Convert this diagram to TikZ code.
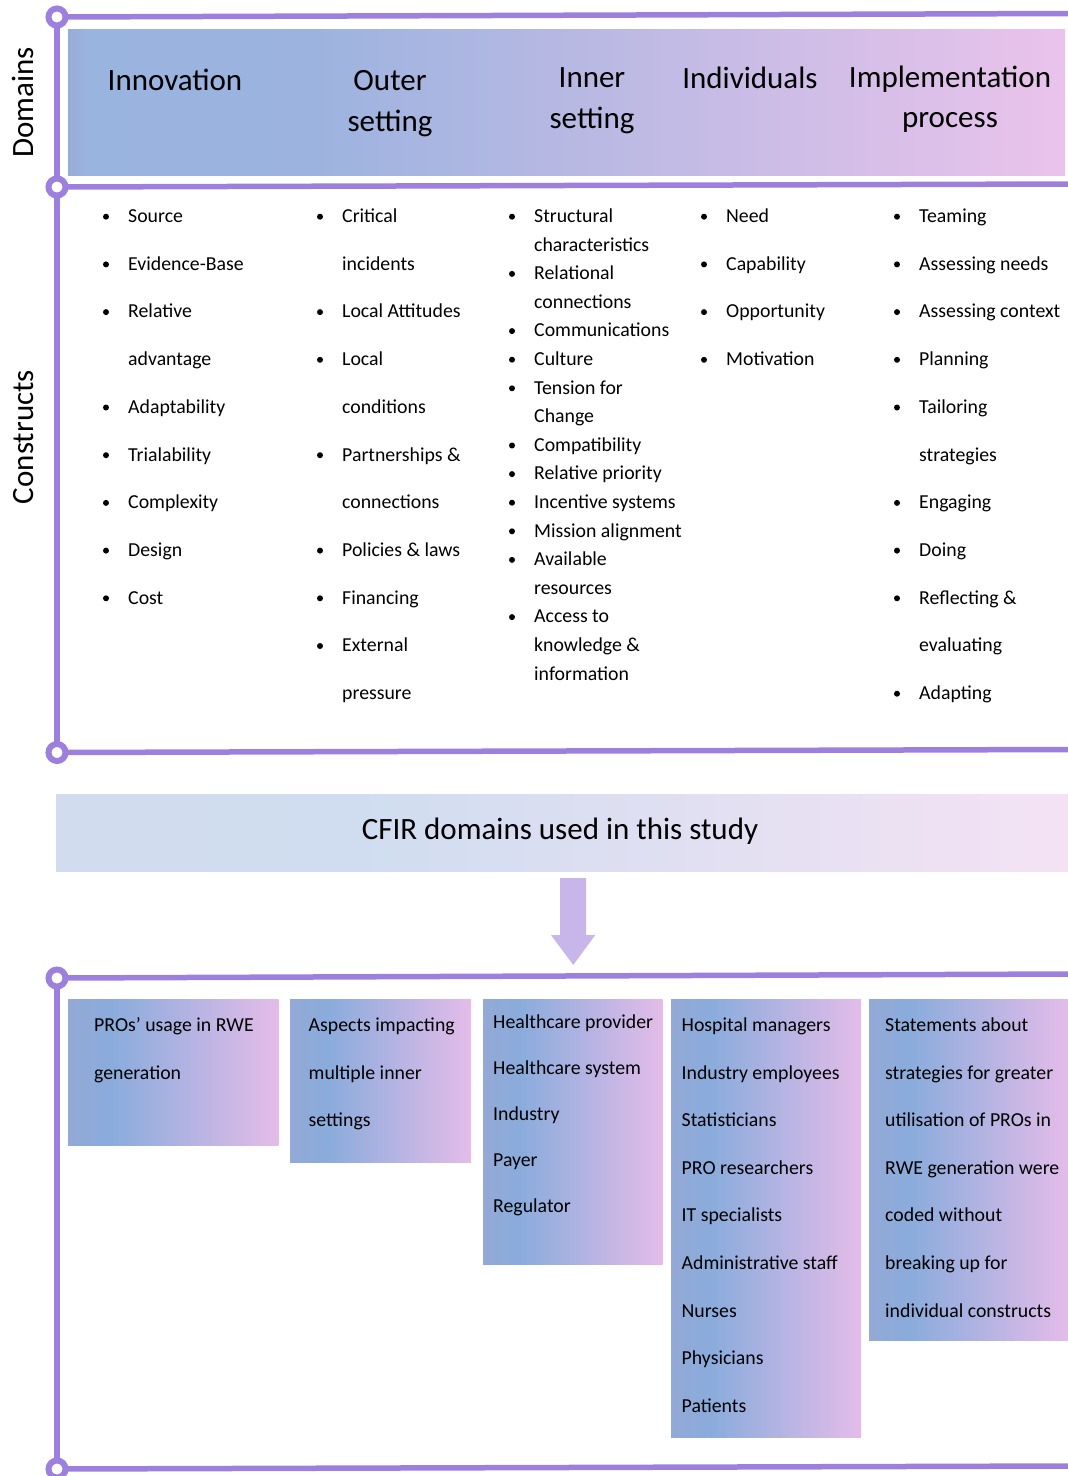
\documentclass[tikz,border=0pt]{standalone}
\usepackage{fontspec}
\setmainfont{Carlito}
\definecolor{lineP}{HTML}{9D7FDD}
\definecolor{arrowP}{HTML}{C8B6EA}
\definecolor{hA}{HTML}{97ADD7}
\definecolor{hB}{HTML}{99B4DF}
\definecolor{hC}{HTML}{9CB3DF}
\definecolor{hD}{HTML}{EAC3EB}
\definecolor{bA}{HTML}{D1DCEE}
\definecolor{bB}{HTML}{D0DDF0}
\definecolor{bC}{HTML}{F4E2F4}
\definecolor{xA}{HTML}{93A9D6}
\definecolor{xB}{HTML}{8AACDC}
\definecolor{xC}{HTML}{E4BCE9}
\pgfdeclarehorizontalshading{headgrad}{100bp}{color(0bp)=(hA); color(25bp)=(hA); color(26bp)=(hB); color(37bp)=(hC); color(75bp)=(hD); color(100bp)=(hD)}
\pgfdeclarehorizontalshading{bandgrad}{100bp}{color(0bp)=(bA); color(25bp)=(bA); color(40bp)=(bB); color(75bp)=(bC); color(100bp)=(bC)}
\pgfdeclarehorizontalshading{boxgrad}{100bp}{color(0bp)=(xA); color(25bp)=(xA); color(35.5bp)=(xB); color(75bp)=(xC); color(100bp)=(xC)}
\newcommand\crlist[5]{%
  \foreach \b/\t [count=\i from 0] in {#5} {%
    \node[item] (#1\i) at (#2, {#3+\i*#4}) {\t};
    \ifnum\b=1 \fill (#2-22, {#3+\i*#4-5.8}) circle (3); \fi
  }}
\begin{document}
\begin{tikzpicture}[x=1pt,y=-1pt,
  rail/.style={draw=lineP, line width=5.5},
  knob/.style={draw=lineP, fill=white, line width=6},
  hd/.style={anchor=base, inner sep=0, font=\fontsize{31}{36}\selectfont},
  item/.style={anchor=base west, inner sep=0, font=\fontsize{19.8}{24}\selectfont},
  sidelab/.style={anchor=base, inner sep=0, rotate=90, font=\fontsize{31}{36}\selectfont},
  gbox/.style={shade, shading=boxgrad}
]
\useasboundingbox (0,0) rectangle (1068,1476);

% header band
\shade[shading=headgrad] (68,29.3) rectangle (1065,175.7);
% CFIR band
\shade[shading=bandgrad] (56,794) rectangle (1068,871.7);
% arrow
\fill[arrowP] (560,878) -- (586,878) -- (586,935) -- (595.3,935) -- (573.3,965) -- (551,935) -- (560,935) -- cycle;

% bottom boxes
\path[gbox] (68,999) rectangle (278.5,1145);
\path[gbox] (290,999) rectangle (471,1162);
\path[gbox] (483,999) rectangle (662.5,1264);
\path[gbox] (671,999) rectangle (861,1437);
\path[gbox] (869,999) rectangle (1068,1340.5);

% rails
\coordinate (k1) at (57,17);
\coordinate (k2) at (57,187);
\coordinate (k3) at (57,752.5);
\coordinate (k4) at (57,978);
\coordinate (k5) at (57,1469);
\draw[rail] (k1) -- (1068,13.5);
\draw[rail] (k2) -- (1068,184);
\draw[rail] (k3) -- (1068,749.5);
\draw[rail] (k4) -- (1068,974);
\draw[rail] (k5) -- (1068,1466);
\draw[rail] (k1) -- (k3);
\draw[rail] (k4) -- (k5);
\foreach \k in {k1,k2,k3,k4,k5} \draw[knob] (\k) circle (8.5);

% side labels
\node[sidelab] (domains) at (34,102.5) {Domains};
\node[sidelab] (constructs) at (34,437) {Constructs};

% domain headers
\node[hd] (innov) at (175,90) {Innovation};
\node[hd] (outer1) at (390,90) {Outer};
\node[hd] (outer2) at (390,131) {setting};
\node[hd] (inner1) at (592,87.5) {Inner};
\node[hd] (inner2) at (592,128) {setting};
\node[hd] (indiv) at (750,88.5) {Individuals};
\node[hd] (impl1) at (950,87.5) {Implementation};
\node[hd] (impl2) at (950,127) {process};

% construct columns
\crlist{ca}{128}{222.5}{47.7}{1/Source,1/Evidence-Base,1/Relative,0/advantage,1/Adaptability,1/Trialability,1/Complexity,1/Design,1/Cost}
\crlist{cb}{342}{222.5}{47.7}{1/Critical,0/incidents,1/Local Attitudes,1/Local,0/conditions,1/Partnerships \&,0/connections,1/Policies \& laws,1/Financing,1/External,0/pressure}
\crlist{cc}{534}{222.5}{28.6}{1/Structural,0/characteristics,1/Relational,0/connections,1/Communications,1/Culture,1/Tension for,0/Change,1/Compatibility,1/Relative priority,1/Incentive systems,1/Mission alignment,1/Available,0/resources,1/Access to,0/knowledge \&,0/information}
\crlist{cd}{726}{222.5}{47.7}{1/Need,1/Capability,1/Opportunity,1/Motivation}
\crlist{ce}{919}{222.5}{47.7}{1/Teaming,1/Assessing needs,1/Assessing context,1/Planning,1/Tailoring,0/strategies,1/Engaging,1/Doing,1/Reflecting \&,0/evaluating,1/Adapting}

% CFIR band text
\node[hd] (cfir) at (560,839) {CFIR domains used in this study};

% bottom box texts
\crlist{ba}{94}{1031.5}{47.6}{0/PROs’ usage in RWE,0/generation}
\crlist{bb}{308.5}{1031.5}{47.6}{0/Aspects impacting,0/multiple inner,0/settings}
\crlist{bc}{493}{1028.5}{46}{0/Healthcare provider,0/Healthcare system,0/Industry,0/Payer,0/Regulator}
\crlist{bd}{681.5}{1031.5}{47.6}{0/Hospital managers,0/Industry employees,0/Statisticians,0/PRO researchers,0/IT specialists,0/Administrative staff,0/Nurses,0/Physicians,0/Patients}
\crlist{be}{885}{1031.5}{47.6}{0/Statements about,0/strategies for greater,0/utilisation of PROs in,0/RWE generation were,0/coded without,0/breaking up for,0/individual constructs}
\end{tikzpicture}
\end{document}
